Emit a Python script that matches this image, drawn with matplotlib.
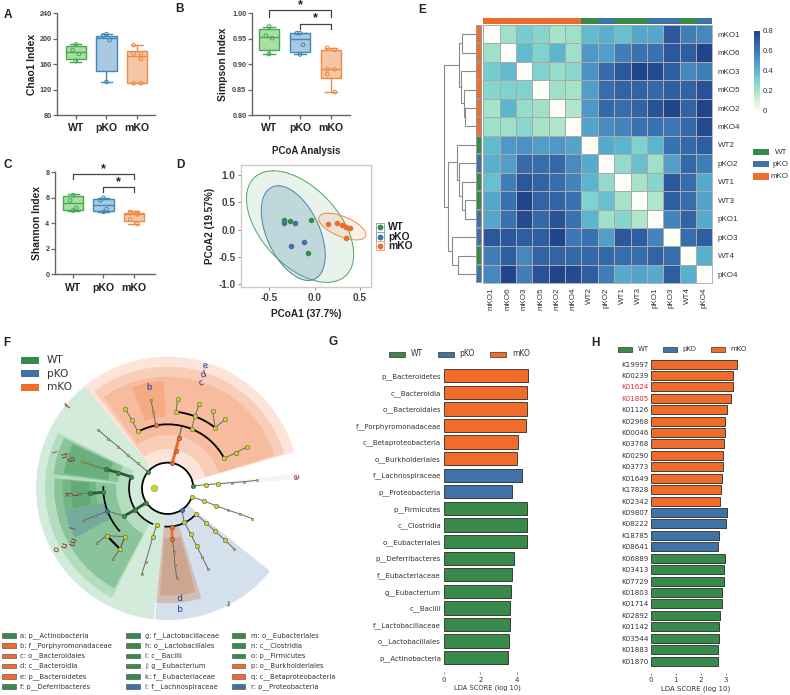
import numpy as np
import matplotlib
matplotlib.use('Agg')
import matplotlib.pyplot as plt
import matplotlib.patheffects as pe
from matplotlib.lines import Line2D
from matplotlib.patches import Rectangle, Wedge, Arc
from matplotlib.colors import LinearSegmentedColormap, ListedColormap

W, H = 790, 695
GREEN, BLUE, ORANGE = '#378a4a', '#3f73a5', '#ef6c2a'
SANS = 'Liberation Sans'
GROUPS = ['WT', 'pKO', 'mKO']

# ---------- box plot data: (whisker low, q1, median, q3, whisker high), points
chao_stats = [(164, 168, 179, 188, 191), (132, 149, 201, 205, 207), (130, 130, 173, 180, 190)]
chao_pts = [[191, 182, 176, 165], [207, 205, 198, 132], [190, 177, 177, 168, 130, 130]]
simpson_stats = [(.920, .928, .954, .969, .974), (.919, .924, .949, .961, .962), (.845, .872, .890, .928, .932)]
simpson_pts = [[.974, .956, .951, .920], [.961, .961, .938, .919], [.932, .928, .890, .890, .880, .845]]
shannon_stats = [(4.95, 5.05, 5.6, 6.15, 6.3), (4.85, 4.95, 5.45, 5.9, 6.0), (3.95, 4.2, 4.7, 4.8, 4.95)]
shannon_pts = [[6.2, 5.8, 5.2, 5.0], [6.0, 5.8, 5.1, 4.9], [4.9, 4.8, 4.8, 4.7, 4.3, 3.95]]

# ---------- PCoA
pcoa_wt = [(-.34, .175), (-.275, .155), (-.04, .18), (-.073, -.43)]
pcoa_pko = [(-.34, .13), (-.22, .12), (-.117, -.235), (-.256, -.31)]
pcoa_mko = [(.143, .107), (.245, .13), (.30, .08), (.348, .04), (.385, .035), (.348, -.16)]
# centre x, centre y, half-width, half-height, correlation
ell_wt = (-.16, .055, .59, 1.025, -.5)
ell_pko = (-.235, -.065, .352, .87, -.47)
ell_mko = (.304, .055, .26, .245, -.6)

# ---------- heatmap
hm_labels = ['mKO1', 'mKO6', 'mKO3', 'mKO5', 'mKO2', 'mKO4', 'WT2', 'pKO2', 'WT1', 'WT3', 'pKO1', 'pKO3', 'WT4', 'pKO4']
hm_group = [2, 2, 2, 2, 2, 2, 0, 1, 0, 0, 1, 1, 0, 1]
hm_values = [
    [0, .22, .32, .28, .20, .22, .38, .42, .36, .45, .45, .72, .58, .55],
    [.22, 0, .38, .30, .40, .22, .50, .48, .58, .62, .62, .72, .70, .78],
    [.32, .38, 0, .30, .24, .27, .52, .65, .72, .78, .76, .70, .55, .58],
    [.28, .30, .30, 0, .22, .20, .48, .64, .68, .68, .66, .70, .68, .74],
    [.20, .40, .24, .22, 0, .18, .50, .66, .64, .68, .74, .78, .68, .78],
    [.22, .22, .27, .20, .18, 0, .46, .54, .56, .62, .62, .60, .66, .76],
    [.38, .50, .52, .48, .50, .46, 0, .44, .40, .30, .40, .62, .66, .70],
    [.42, .48, .65, .64, .66, .54, .44, 0, .25, .36, .22, .48, .66, .58],
    [.36, .58, .72, .68, .64, .56, .40, .25, 0, .20, .28, .72, .64, .44],
    [.45, .62, .78, .68, .68, .62, .30, .36, .20, 0, .18, .70, .64, .46],
    [.45, .62, .76, .66, .74, .62, .40, .22, .28, .18, 0, .56, .68, .44],
    [.72, .72, .70, .70, .78, .60, .62, .48, .72, .70, .56, 0, .64, .70],
    [.58, .70, .55, .68, .68, .66, .66, .66, .64, .64, .68, .64, 0, .42],
    [.55, .78, .58, .74, .78, .76, .70, .58, .44, .46, .44, .70, .42, 0],
]
# dendrogram: (height, child, child), ints are leaf rows
hm_tree = (32, (17, (13.5, 0, 1), (14.7, 2, (12, 3, (11, 4, 5)))),
           (27.5, (19, 6, (16.5, 7, (13.5, 8, (10.3, 9, 10)))),
            (24, 11, (18, 12, 13))))

# ---------- LDA bars
g_labels = ['p__Bacteroidetes', 'c__Bacteroidia', 'o__Bacteroidales', 'f__Porphyromonadaceae',
            'c__Betaproteobacteria', 'o__Burkholderiales', 'f__Lachnospiraceae', 'p__Proteobacteria',
            'p__Firmicutes', 'c__Clostridia', 'o__Eubacteriales', 'p__Deferribacteres',
            'f__Eubacteriaceae', 'g__Eubacterium', 'c__Bacilli', 'f__Lactobacillaceae',
            'o__Lactobacillales', 'p__Actinobacteria']
g_values = [4.58, 4.56, 4.55, 4.51, 4.04, 4.02, 4.27, 3.75, 4.55, 4.53, 4.53, 3.82, 3.71, 3.69, 3.60, 3.60, 3.58, 3.49]
g_group = [2] * 6 + [1] * 2 + [0] * 10
h_labels = ['K19997', 'K00239', 'K01624', 'K01805', 'K01126', 'K02968', 'K00046', 'K03768', 'K00290',
            'K03773', 'K01649', 'K17828', 'K02342', 'K09807', 'K08222', 'K18785', 'K08641', 'K06889',
            'K03413', 'K07729', 'K01803', 'K01714', 'K02892', 'K01142', 'K03544', 'K01883', 'K01870']
h_values = [3.43, 3.29, 3.27, 3.19, 3.03, 2.97, 2.95, 2.91, 2.88, 2.87, 2.83, 2.79, 2.75, 3.05, 3.00, 2.71,
            2.67, 2.95, 2.92, 2.91, 2.83, 2.83, 2.77, 2.73, 2.72, 2.67, 2.67]
h_group = [2] * 13 + [1] * 4 + [0] * 10
h_red = ['K01624', 'K01805']

# ---------- cladogram (units: 1/3 pixel, centre at origin handled below)
CX, CY = 503, 475
# colour, alpha, theta1, theta2, r inner, r outer
clade_wedges = [
    (ORANGE, .18, 16, 129, 78, 395), (ORANGE, .18, 16.5, 127, 118, 365), (ORANGE, .18, 17, 125, 160, 335),
    (ORANGE, .22, 92, 109, 215, 322),
    ('#3aa55a', .22, 129, 152, 78, 395), ('#3aa55a', .22, 152, 264, 78, 395),
    ('#3aa55a', .20, 153, 174, 115, 368), ('#2e8b47', .30, 154, 173, 150, 345), ('#2e8b47', .35, 155, 172, 180, 315),
    ('#3aa55a', .20, 174, 243, 115, 368), ('#2e8b47', .30, 175, 242, 155, 340),
    ('#2e8b47', .25, 175, 193, 215, 315), ('#2e8b47', .25, 176, 192, 235, 290),
    (BLUE, .30, 193, 208, 190, 315),
    (BLUE, .22, 264.5, 321, 80, 395),
    ('#c8703c', .30, 264, 287, 118, 345), ('#c8703c', .30, 266, 285, 150, 322),
    ('#3aa55a', .08, 4, 6.5, 78, 395),
]
# black arcs: radius, from angle, to angle, width
clade_arcs = [(77, 5, 341, 1.3), (192, 28, 118, 1.3), (231, 52, 84, 1.3), (116, 165, 248, 1.2),
              (193, 178, 222, 1.2), (115, 265, 318, 1.2)]
clade_branches = [
    [(672, 385), (708, 368), (742, 350)], [(413, 304), (395, 270), (376, 236)],
    [(467, 285), (460, 245), (453, 210)], [(575, 296), (585, 258), (598, 222)],
    [(528, 245), (533, 207)], [(645, 293), (638, 242)], [(645, 293), (676, 268)],
    [(443, 425), (413, 400), (384, 376), (355, 350), (325, 326), (295, 300)],
    [(318, 418), (282, 407), (245, 395)], [(322, 543), (285, 558), (248, 572)],
    [(271, 490), (232, 490)], [(375, 620), (320, 617), (290, 640)], [(360, 657), (338, 688)],
    [(470, 585), (458, 622), (437, 695), (425, 733)],
    [(517, 628), (522, 665), (525, 705), (530, 743)],
    [(553, 577), (572, 612), (590, 648), (607, 682), (624, 716)],
    [(588, 552), (617, 578), (645, 603), (674, 630), (703, 657)],
    [(575, 500), (612, 513), (648, 527), (683, 540), (720, 552), (757, 566)],
    [(578, 468), (618, 464), (655, 461), (695, 458), (733, 455), (771, 451)],
    [(322, 543), (372, 558)], [(545, 540), (553, 577)],
]
clade_bold = [
    ([(517, 398), (527, 362), (537, 323)], ORANGE, 2.2), ([(537, 323), (545, 291)], '#777777', 1.0),
    ([(392, 440), (355, 428), (318, 418)], '#2b5a38', 2.0), ([(310, 487), (271, 490)], '#2b5a38', 2.0),
    ([(438, 518), (405, 540), (372, 558)], '#2b5a38', 2.0), ([(515, 590), (517, 628)], ORANGE, 2.0),
    ([(320, 617), (360, 657)], 'black', 1.5), ([(375, 620), (360, 657)], '#555555', .8),
]
node_big_yellow = [(672, 385), (708, 368), (742, 350), (413, 304), (395, 270), (376, 236), (575, 296), (585, 258),
                   (528, 245), (533, 207), (598, 222), (645, 293), (638, 242), (676, 268), (375, 620), (320, 617),
                   (360, 657), (470, 585), (458, 622), (553, 577), (572, 612), (590, 648), (588, 552), (617, 578),
                   (645, 603), (674, 630), (575, 500), (612, 513), (648, 527), (618, 464), (655, 461)]
node_small_yellow = [(460, 245), (453, 210), (413, 400), (384, 376), (355, 350), (325, 326), (295, 300), (282, 407),
                     (245, 395), (285, 558), (248, 572), (232, 490), (290, 640), (338, 688), (437, 695), (425, 733),
                     (522, 665), (525, 705), (530, 743), (607, 682), (624, 716), (703, 657), (683, 540), (720, 552),
                     (757, 566), (695, 458), (733, 455), (771, 451)]
node_green = [(578, 468), (443, 425), (438, 518), (405, 540), (392, 440), (355, 428), (318, 418), (372, 558),
              (310, 487), (271, 490)]
node_orange = [(517, 398), (527, 362), (537, 323), (467, 285), (515, 590), (517, 628)]
node_blue = [(545, 540), (322, 543)]
NAVY, MAROON, DKGREEN = '#2d3a9c', '#8c2f2f', '#1f6b3a'
clade_labels = [('c', 603, 157, 20, NAVY), ('d', 610, 133, 20, NAVY), ('e', 617, 108, 20, NAVY), ('b', 445, 172, 5, NAVY),
                ('p', 538, 801, 180, NAVY), ('q', 540, 832, 180, NAVY), ('r', 682, 815, 185, DKGREEN),
                ('f', 205, 228, 55, MAROON), ('i', 160, 365, 285, MAROON), ('h', 187, 375, 285, MAROON),
                ('g', 212, 385, 285, MAROON), ('k', 197, 492, 270, MAROON), ('j', 228, 490, 270, MAROON),
                ('l', 208, 590, 255, MAROON), ('m', 212, 632, 250, MAROON), ('n', 187, 645, 250, MAROON),
                ('o', 165, 655, 250, MAROON), ('a', 885, 440, 275, MAROON)]
clade_legend = [
    [('a: p__Actinobacteria', 0), ('b: f__Porphyromonadaceae', 2), ('c: o__Bacteroidales', 2),
     ('d: c__Bacteroidia', 2), ('e: p__Bacteroidetes', 2), ('f: p__Deferribacteres', 0)],
    [('g: f__Lactobacillaceae', 0), ('h: o__Lactobacillales', 0), ('i: c__Bacilli', 0),
     ('j: g__Eubacterium', 0), ('k: f__Eubacteriaceae', 0), ('l: f__Lachnospiraceae', 1)],
    [('m: o__Eubacteriales', 0), ('n: c__Clostridia', 0), ('o: p__Firmicutes', 0),
     ('p: o__Burkholderiales', 2), ('q: c__Betaproteobacteria', 2), ('r: p__Proteobacteria', 1)],
]

GROUP_COL = [GREEN, BLUE, ORANGE]

fig = plt.figure(figsize=(W / 100, H / 100), dpi=100, facecolor='white')


def axpx(x0, y0, x1, y1, **kw):
    return fig.add_axes([x0 / W, 1 - y1 / H, (x1 - x0) / W, (y1 - y0) / H], **kw)


def T(x, y, s, **kw):
    kw.setdefault('ha', 'left')
    kw.setdefault('va', 'center')
    return fig.text(x / W, 1 - y / H, s, **kw)


def R(x0, y0, x1, y1, fc, ec='none', lw=0):
    fig.add_artist(Rectangle((x0 / W, 1 - y1 / H), (x1 - x0) / W, (y1 - y0) / H, fc=fc, ec=ec, lw=lw,
                             transform=fig.transFigure))


for s, x, y in [('A', 8, 15), ('B', 180, 9), ('C', 8, 165), ('D', 180, 165), ('E', 422, 10), ('F', 7, 343),
                ('G', 333, 342), ('H', 595, 343)]:
    T(x, y, s, family=SANS, fontsize=8.5, fontweight='bold', ha='center', color='#222222')

BOX_FILL = ['#a9dfa3', '#a9c9e2', '#f6c6a6']
BOX_EDGE = ['#45a852', '#3f88b8', '#ee8b44']


def boxpanel(rect, ylim, yticks, yfmt, stats, pts, ylabel, lab_x, cat_px, lab_y):
    ax = axpx(*rect)
    x0, y0, x1, y1 = rect
    step = cat_px[1] - cat_px[0]
    ax.set_xlim(1 - (cat_px[0] - x0) / step, 3 + (x1 - cat_px[2]) / step)
    ax.set_ylim(*ylim)
    for i in range(3):
        wl, q1, med, q3, wh = stats[i]
        st = [dict(whislo=wl, q1=q1, med=med, q3=q3, whishi=wh, fliers=[])]
        e = BOX_EDGE[i]
        ax.bxp(st, positions=[i + 1], widths=.67, patch_artist=True, showfliers=False, capwidths=.36,
               boxprops=dict(facecolor=BOX_FILL[i], edgecolor=e, lw=1.0),
               medianprops=dict(color=e, lw=1.0), whiskerprops=dict(color=e, lw=1.0),
               capprops=dict(color=e, lw=1.0), manage_ticks=False)
        n = len(pts[i])
        offs = np.array([-.12, .12, -.12, .12, -.12, .12])[:n]
        if n == 4:
            offs = np.array([0, -.1, .1, 0])
        ax.scatter(np.full(n, i + 1) + offs, pts[i], s=7, facecolor='none', edgecolor=e, lw=.7, zorder=5)
    ax.set_xticks([1, 2, 3], GROUPS, family=SANS, fontsize=7.6, fontweight='bold', color='#222222')
    ax.set_yticks(yticks, [yfmt % v for v in yticks], family=SANS, fontsize=5.2, fontweight='bold', color='#444444')
    ax.tick_params(axis='y', length=3, width=.9, color='#666666', pad=1)
    ax.tick_params(axis='x', length=3, width=.9, color='#666666', pad=3)
    for sp in ['top', 'right']:
        ax.spines[sp].set_visible(False)
    for sp in ['left', 'bottom']:
        ax.spines[sp].set_color('#666666')
        ax.spines[sp].set_linewidth(1.0)
    ax.set_ylabel(ylabel, family=SANS, fontsize=7.4, fontweight='bold', color='#222222', va='center')
    ax.yaxis.set_label_coords((lab_x - x0) / (x1 - x0), 1 - (lab_y - y0) / (y1 - y0))
    ax.patch.set_alpha(0)
    return ax


def bracket(ax, a, b, top, low, star_y):
    ax.plot([a, a, b, b], [low, top, top, low], color='#444444', lw=.9, clip_on=False)
    ax.text((a + b) / 2, star_y, '*', ha='center', va='center', family=SANS, fontsize=9, fontweight='bold',
            color='#222222', clip_on=False)


boxpanel((57, 13.3, 155, 115), (80, 240), [80, 120, 160, 200, 240], '%d', chao_stats, chao_pts,
         'Chao1 Index', 32, (76, 107, 137), 64)
axB = boxpanel((252, 13.3, 350, 115), (.80, 1.0), [.80, .85, .90, .95, 1.0], '%.2f', simpson_stats, simpson_pts,
               'Simpson Index', 223, (269, 300, 331), 64)
bracket(axB, 1, 3, 1.0066, .9934, 1.016)
bracket(axB, 2, 3, .979, .9685, .990)
axC = boxpanel((55, 172.3, 155, 274.3), (0, 8), [0, 2, 4, 6, 8], '%d', shannon_stats, shannon_pts,
               'Shannon Index', 37, (73, 103, 134), 223)
bracket(axC, 1, 3, 7.9, 7.48, 8.25)
bracket(axC, 2, 3, 6.85, 6.43, 7.2)

# ---------- D
axD = axpx(241, 165, 371, 287)
axD.set_xlim(-.81, .62)
axD.set_ylim(-1.055, 1.187)
t = np.linspace(0, 2 * np.pi, 300)
for (cx, cy, rx, ry, rho), col, a in [(ell_wt, '#4fa566', .13), (ell_pko, '#4c86ad', .25), (ell_mko, '#ee8a4a', .13)]:
    d = np.arccos(rho)
    x = cx + rx * np.cos(t + d)
    y = cy + ry * np.cos(t)
    axD.fill(x, y, fc=col, alpha=a, ec='none')
    axD.plot(x, y, color=col, lw=.7)
for pts, col in [(pcoa_wt, GREEN), (pcoa_pko, BLUE), (pcoa_mko, ORANGE)]:
    p = np.array(pts)
    axD.scatter(p[:, 0], p[:, 1], s=16, color=col, zorder=4, lw=0)
axD.set_xticks([-.5, 0, .5], ['-0.5', '0.0', '0.5'], family=SANS, fontsize=7.2, fontweight='bold', color='#444444')
axD.set_yticks([-1, -.5, 0, .5, 1], ['-1.0', '-0.5', '0.0', '0.5', '1.0'], family=SANS, fontsize=7.2,
               fontweight='bold', color='#444444')
axD.tick_params(length=2, width=.7, color='#888888', pad=2)
for sp in axD.spines.values():
    sp.set_color('#cccccc')
    sp.set_linewidth(1.0)
axD.set_title('PCoA Analysis', family=SANS, fontsize=7, fontweight='bold', color='#222222', pad=8)
axD.set_xlabel('PCoA1 (37.7%)', family=SANS, fontsize=7.2, fontweight='bold', color='#222222', labelpad=5)
axD.set_ylabel('PCoA2 (19.57%)', family=SANS, fontsize=7.2, fontweight='bold', color='#222222', labelpad=2)
for i, (lab, y) in enumerate(zip(GROUPS, [227, 236.5, 246])):
    R(375.5, y - 4.5, 384, y + 4.5, 'white', ec=['#7fbb8f', '#7fa6c8', '#f3a67c'][i], lw=.7)
    fig.add_artist(Line2D([379.7 / W], [1 - y / H], marker='o', ms=4.2, mew=0, color=GROUP_COL[i], ls='none',
                          transform=fig.transFigure, zorder=6))
    T(388, y, lab, family=SANS, fontsize=7.4, fontweight='bold', color='#222222')

# ---------- E
cmap = LinearSegmentedColormap.from_list('hm', [(0, '#fbfdf6'), (.125, '#d3f2d8'), (.25, '#a6e3c8'), (.375, '#7dd2cf'),
                                                (.5, '#5ab5cf'), (.625, '#4f98c8'), (.75, '#3c78b4'), (.875, '#2e5ea2'),
                                                (1, '#1e3f86')])
axE = axpx(483.3, 25, 712.3, 283.3)
mesh = axE.pcolormesh(np.array(hm_values), cmap=cmap, vmin=0, vmax=.8, edgecolors='#aaaaaa', linewidth=.6)
axE.set_ylim(14, 0)
axE.set_xlim(0, 14)
axE.set_xticks(np.arange(14) + .5, hm_labels, rotation=90, family=SANS, fontsize=5.8, color='#333333')
axE.yaxis.tick_right()
axE.set_yticks(np.arange(14) + .5, hm_labels, family=SANS, fontsize=5.8, color='#333333')
axE.tick_params(length=0, axis='y', pad=4)
axE.tick_params(length=0, axis='x', pad=3)
for sp in axE.spines.values():
    sp.set_color('#aaaaaa')
    sp.set_linewidth(.6)
grp_cmap = ListedColormap(GROUP_COL)
axT = axpx(483.3, 17.7, 712.3, 24)
axT.pcolormesh(np.array([hm_group]), cmap=grp_cmap, vmin=0, vmax=2)
axT.axis('off')
axL = axpx(476, 25, 482, 283.3)
axL.pcolormesh(np.array(hm_group)[:, None], cmap=grp_cmap, vmin=0, vmax=2, edgecolors='#999999', linewidth=.3)
axL.set_ylim(14, 0)
axL.axis('off')
axDen = axpx(435, 25, 475.5, 283.3)
axDen.set_xlim(40.5, 0)
axDen.set_ylim(14, 0)
axDen.axis('off')


def draw_tree(n):
    if isinstance(n, int):
        return n + .5, 0
    h, a, b = n
    ya, ha = draw_tree(a)
    yb, hb = draw_tree(b)
    axDen.plot([ha, h, h, hb], [ya, ya, yb, yb], color='#8a8a8a', lw=.8, solid_joinstyle='miter')
    return (ya + yb) / 2, h


draw_tree(hm_tree)
cax = axpx(754.3, 30.7, 759.7, 110.7)
cb = fig.colorbar(mesh, cax=cax, ticks=[0, .2, .4, .6, .8])
cb.ax.set_yticklabels(['0', '0.2', '0.4', '0.6', '0.8'], family=SANS, fontsize=5.6, color='#333333')
cb.ax.tick_params(length=0, pad=2)
cb.outline.set_visible(False)
for lab, y, x, c in zip(GROUPS, [152, 164, 176.5], [775, 773, 771], GROUP_COL):
    R(752.7, y - 3.2, 769.3, y + 3.2, c)
    T(x, y, lab, family=SANS, fontsize=5.8, color='#333333')

# ---------- F
axF = axpx(0, 330, 300, 625)
axF.set_xlim(-CX, 900 - CX)
axF.set_ylim(CY - 885, CY)
axF.axis('off')


def P(pts):
    a = np.array(pts, float)
    return a[:, 0] - CX, CY - a[:, 1]


for col, al, t1, t2, r0, r1 in clade_wedges:
    axF.add_patch(Wedge((0, 0), r1, t1, t2, width=r1 - r0, fc=col, alpha=al, ec='none', zorder=1))
for br in clade_branches:
    x, y = P(br)
    axF.plot(x, y, color='#6a6a6a', lw=.7, zorder=2)
for pts, col, lw in clade_bold:
    x, y = P(pts)
    axF.plot(x, y, color=col, lw=lw, zorder=2.5)
for r, a0, a1, lw in clade_arcs:
    axF.add_patch(Arc((0, 0), 2 * r, 2 * r, theta1=a0, theta2=a1, color='black', lw=lw, zorder=2.6))
for pts, col, s in [(node_small_yellow, '#c5d42a', 3), (node_big_yellow, '#c5d42a', 11), (node_green, GREEN, 11),
                    (node_orange, ORANGE, 11), (node_blue, BLUE, 11)]:
    x, y = P(pts)
    axF.scatter(x, y, s=s, color=col, edgecolor='#444444', lw=.3, zorder=3)
x, y = P([(463, 475)])
axF.scatter(x, y, s=24, color='#c5d42a', edgecolor='#888888', lw=.3, zorder=3)
for s, zx, zy, rot, col in clade_labels:
    x, y = P([(zx, zy)])
    axF.text(x[0], y[0], s, rotation=rot, color=col, fontsize=6.5, ha='center', va='center', clip_on=False, zorder=4)
for lab, y, c in zip(GROUPS, [360, 374, 387], GROUP_COL):
    R(20.5, y - 3.5, 38.5, y + 3.5, c)
    T(46.5, y, lab, fontsize=7.6, color='#333333')
for col_i, (col, px, tx) in enumerate(zip(clade_legend, [2, 126, 232], [20.5, 145, 250.7])):
    for (lab, g), y in zip(col, [635.7, 645.7, 656, 666, 676.3, 686.3]):
        R(px, y - 2.4, px + 13.5, y + 2.4, GROUP_COL[g], ec='#444444', lw=.4)
        T(tx, y, lab, fontsize=4.9, color='#333333')


# ---------- G, H
def lda(rect, px0, px_unit, y_first, y_last, labels, values, group, xticks, bar_h, fs, pad, xfs):
    x0, y0, x1, y1 = rect
    ax = axpx(*rect)
    n = len(labels)
    step = (y_last - y_first) / (n - 1)
    ax.set_xlim(0, (x1 - px0) / px_unit)
    ax.set_ylim(n - 1 + (y1 - y_last) / step, -(y_first - y0) / step)
    bars = ax.barh(np.arange(n), values, height=bar_h / step, color=[GROUP_COL[g] for g in group],
                   edgecolor='#2f2f2f', lw=.6)
    for b in bars:
        b.set_path_effects([pe.SimplePatchShadow(offset=(.7, -.7), shadow_rgbFace='#777777', alpha=.6), pe.Normal()])
    ax.set_yticks(np.arange(n), labels, fontsize=fs, color='#333333')
    ax.set_xticks(xticks, [str(v) for v in xticks], fontsize=fs, color='#333333')
    ax.tick_params(axis='y', length=0, pad=pad)
    ax.tick_params(axis='x', length=1.5, width=.5, color='#555555', pad=2)
    for sp in ax.spines.values():
        sp.set_visible(False)
    ax.set_xlabel('LDA SCORE (log 10)', fontsize=xfs, color='#333333', labelpad=1.5)
    return ax


lda((443.7, 369, 531, 671.7), 443.7, 18.33, 375.7, 657.7, g_labels, g_values, g_group, [0, 2, 4], 13.3, 5, 2, 4.9)
axH = lda((651, 358, 741, 672.5), 651, 25, 364, 661, h_labels, h_values, h_group, [0, 1, 2, 3], 9, 5.1, 1.5, 5)
for tl in axH.get_yticklabels():
    if tl.get_text() in h_red:
        tl.set_color('#e8262a')
for lab, (p0, tx) in zip(GROUPS, [(389, 411), (438, 459), (490, 512)]):
    g = GROUPS.index(lab)
    R(p0, 351.5, p0 + 16, 356.5, GROUP_COL[g], ec='#333333', lw=.5)
    T(tx, 354, lab, fontsize=5.5, color='#333333')
for lab, (p0, tx) in zip(GROUPS, [(618, 637.7), (663, 682), (710.7, 730)]):
    g = GROUPS.index(lab)
    R(p0, 346.8, p0 + 14, 351.8, GROUP_COL[g], ec='#333333', lw=.5)
    T(tx, 349.3, lab, fontsize=5, color='#333333')

fig.savefig('out.png', dpi=100, facecolor='white')
